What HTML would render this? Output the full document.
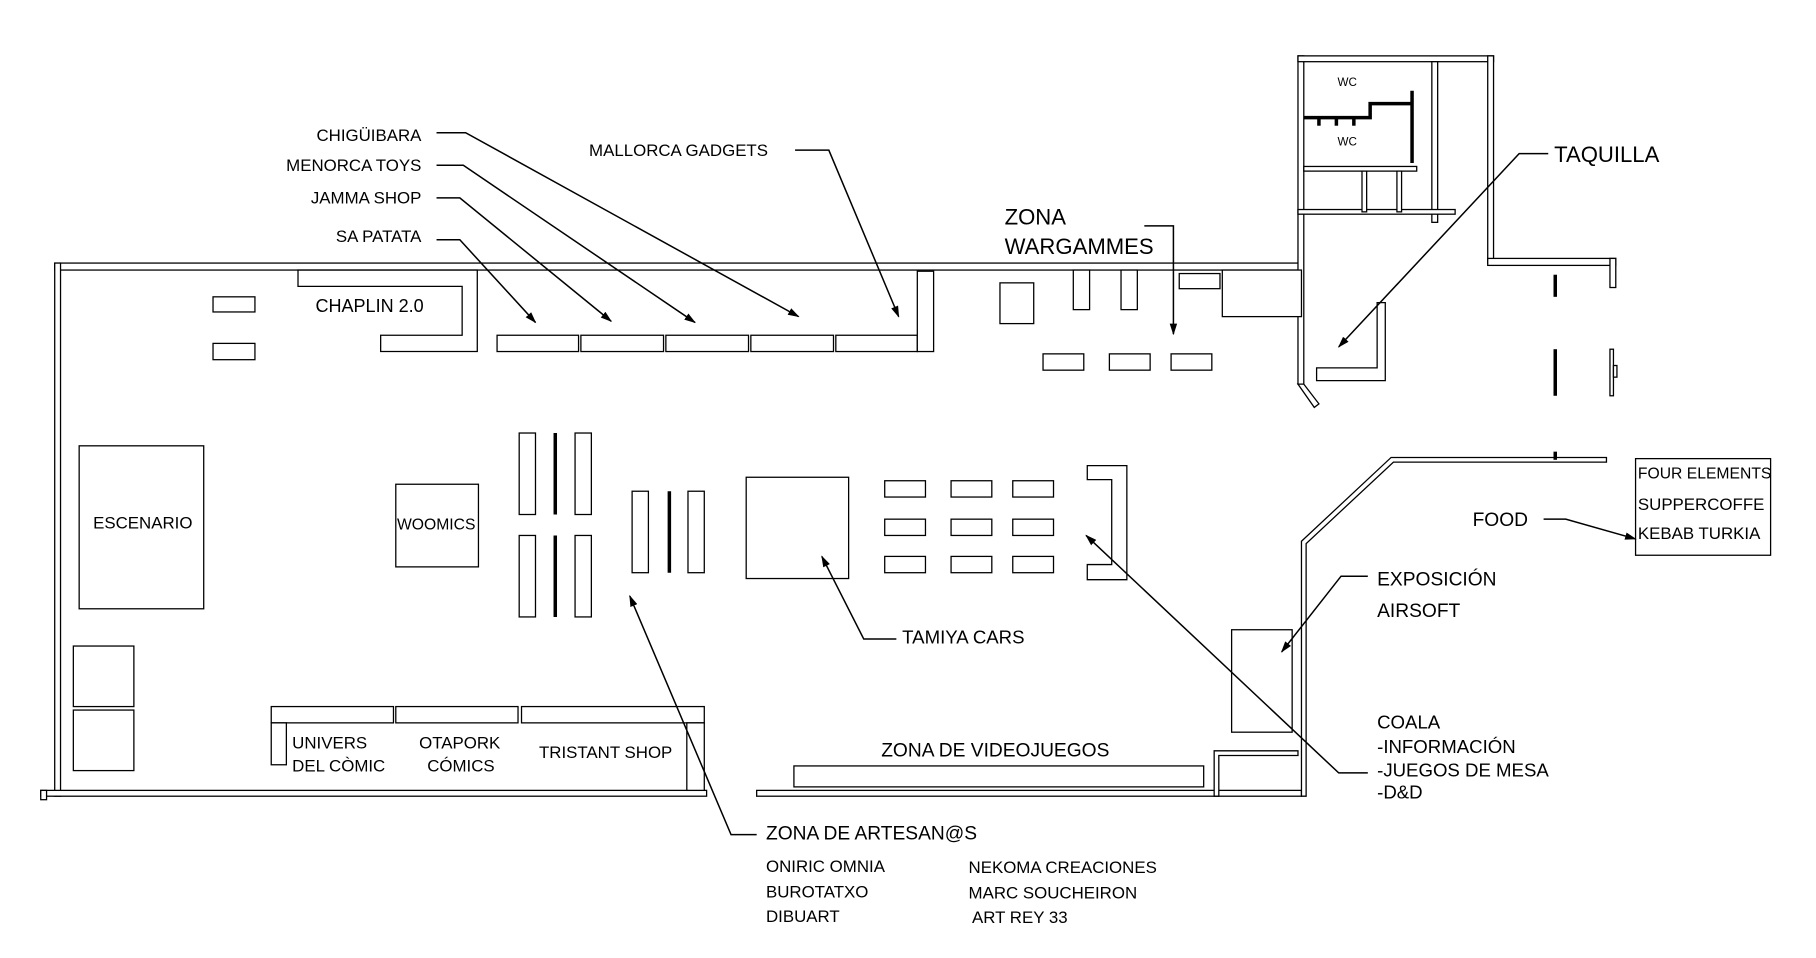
<!DOCTYPE html>
<html><head><meta charset="utf-8"><style>
html,body{margin:0;padding:0;background:#fff;}
svg{display:block;}
text{font-family:"Liberation Sans",sans-serif;fill:#000;}
</style></head><body>
<svg width="1816" height="958" viewBox="0 0 1560 823" preserveAspectRatio="none" xmlns="http://www.w3.org/2000/svg">
<defs><marker id="a" markerWidth="10" markerHeight="8" refX="9" refY="4" orient="auto" markerUnits="userSpaceOnUse"><path d="M0,0.8 L10,4 L0,7.2 Z" fill="#000"/></marker></defs>
<g fill="#fff" stroke="#000" stroke-width="1.1">
<!-- outer walls -->
<rect x="47" y="226" width="1071" height="6"/>
<rect x="47" y="226" width="5" height="458"/>
<rect x="35" y="679" width="572" height="5"/>
<rect x="35" y="679" width="5" height="8"/>
<rect x="650" y="679" width="468" height="5"/>
<rect x="1115" y="48" width="5" height="282"/>
<path d="M1115,330 L1120,330 L1133,347 L1129,350 Z"/>
<rect x="1115" y="48" width="168" height="5"/>
<rect x="1278" y="48" width="5" height="178"/>
<rect x="1278" y="222" width="110" height="6"/>
<rect x="1383" y="222" width="5" height="25"/>
<rect x="1230" y="53" width="5" height="138"/>
<rect x="1120" y="143" width="97" height="4"/>
<rect x="1115" y="180" width="135" height="4"/>
<rect x="1170" y="147" width="4" height="35"/>
<rect x="1200" y="147" width="4" height="35"/>
<path d="M1118,465 L1195,393 L1380,393 L1380,397 L1197,397 L1122,467 L1122,684 L1118,684 Z"/>
<path d="M1043,645 L1115,645 L1115,649 L1047,649 L1047,684 L1043,684 Z"/>
<rect x="1050" y="232" width="68" height="40"/>
<rect x="1013" y="235" width="35" height="13"/>
<!-- shops -->
<rect x="427" y="288" width="70" height="14"/>
<rect x="499" y="288" width="71" height="14"/>
<rect x="572" y="288" width="71" height="14"/>
<rect x="645" y="288" width="71" height="14"/>
<rect x="718" y="288" width="70" height="14"/>
<rect x="788" y="233" width="14" height="69"/>
<path d="M256,232 L410,232 L410,302 L327,302 L327,288 L397,288 L397,246 L256,246 Z"/>
<rect x="183" y="255" width="36" height="13"/>
<rect x="183" y="295" width="36" height="14"/>
<rect x="68" y="383" width="107" height="140"/>
<rect x="340" y="416" width="71" height="71"/>
<rect x="63" y="555" width="52" height="52"/>
<rect x="63" y="610" width="52" height="52"/>
<rect x="446" y="372" width="14" height="70"/>
<rect x="494" y="372" width="14" height="70"/>
<rect x="446" y="460" width="14" height="70"/>
<rect x="494" y="460" width="14" height="70"/>
<rect x="543" y="422" width="14" height="70"/>
<rect x="591" y="422" width="14" height="70"/>
<rect x="641" y="410" width="88" height="87"/>
<rect x="760" y="413" width="35" height="14"/><rect x="817" y="413" width="35" height="14"/><rect x="870" y="413" width="35" height="14"/>
<rect x="760" y="446" width="35" height="14"/><rect x="817" y="446" width="35" height="14"/><rect x="870" y="446" width="35" height="14"/>
<rect x="760" y="478" width="35" height="14"/><rect x="817" y="478" width="35" height="14"/><rect x="870" y="478" width="35" height="14"/>
<path d="M934,400 L968,400 L968,498 L934,498 L934,485 L955,485 L955,412 L934,412 Z"/>
<rect x="859" y="243" width="29" height="35"/>
<rect x="922" y="232" width="14" height="34"/>
<rect x="963" y="232" width="14" height="34"/>
<rect x="896" y="304" width="35" height="14"/>
<rect x="953" y="304" width="35" height="14"/>
<rect x="1006" y="304" width="35" height="14"/>
<rect x="233" y="607" width="105" height="14"/>
<rect x="340" y="607" width="105" height="14"/>
<rect x="448" y="607" width="157" height="14"/>
<rect x="233" y="621" width="13" height="36"/>
<rect x="590" y="621" width="15" height="58"/>
<rect x="682" y="658" width="352" height="18"/>
<rect x="1058" y="541" width="52" height="88"/>
<rect x="1405" y="394" width="116" height="83"/>
<path d="M1183,260 L1190,260 L1190,327 L1131,327 L1131,316 L1183,316 Z"/>
<rect x="1383" y="300" width="3" height="40"/>
<rect x="1386" y="314" width="3" height="10"/>
</g>
<g stroke="#000" stroke-width="3" fill="none">
<line x1="477" y1="372" x2="477" y2="442"/><line x1="477" y1="460" x2="477" y2="530"/>
<line x1="575" y1="422" x2="575" y2="492"/>
<line x1="1336" y1="236" x2="1336" y2="255"/><line x1="1336" y1="300" x2="1336" y2="340"/><line x1="1336" y1="388" x2="1336" y2="395"/>
<line x1="1213" y1="78" x2="1213" y2="140"/>
<path d="M1120,101 L1177,101 L1177,89 L1213,89"/>
<line x1="1133" y1="101" x2="1133" y2="108"/><line x1="1148" y1="101" x2="1148" y2="108"/><line x1="1163" y1="101" x2="1163" y2="108"/>
</g>
<g stroke="#000" stroke-width="1.3" fill="none" marker-end="url(#a)">
<path d="M375,114 L400,114 L686,272"/>
<path d="M375,142 L398,142 L597,277"/>
<path d="M375,170 L395,170 L525,276"/>
<path d="M375,206 L395,206 L460,277"/>
<path d="M683,129 L712,129 L772,272"/>
<path d="M983,194 L1008,194 L1008,287"/>
<path d="M1330,132 L1305,132 L1150,298"/>
<path d="M1326,446 L1345,446 L1405,463"/>
<path d="M1175,495 L1152,495 L1101,560"/>
<path d="M1175,664 L1150,664 L933,460"/>
<path d="M770,549 L742,549 L706,478"/>
<path d="M650,717 L628,717 L541,512"/>
</g>
<g font-size="14.5">
<text x="362" y="121" text-anchor="end">CHIGÜIBARA</text>
<text x="362" y="147" text-anchor="end">MENORCA TOYS</text>
<text x="362" y="175" text-anchor="end">JAMMA SHOP</text>
<text x="362" y="208" text-anchor="end">SA PATATA</text>
<text x="506" y="134">MALLORCA GADGETS</text>
<text x="271" y="268" font-size="15.5">CHAPLIN 2.0</text>
<text x="80" y="454">ESCENARIO</text>
<text x="341" y="455" font-size="13.5">WOOMICS</text>
<text x="775" y="553" font-size="16">TAMIYA CARS</text>
<text x="757" y="650" font-size="16.5">ZONA DE VIDEOJUEGOS</text>
<text x="251" y="643">UNIVERS</text>
<text x="251" y="663">DEL CÒMIC</text>
<text x="360" y="643">OTAPORK</text>
<text x="367" y="663">CÓMICS</text>
<text x="463" y="651">TRISTANT SHOP</text>
<text x="658" y="721" font-size="16.5">ZONA DE ARTESAN@S</text>
<text x="658" y="749">ONIRIC OMNIA</text>
<text x="658" y="771">BUROTATXO</text>
<text x="658" y="792">DIBUART</text>
<text x="832" y="750">NEKOMA CREACIONES</text>
<text x="832" y="772">MARC SOUCHEIRON</text>
<text x="835" y="793">ART REY 33</text>
<text x="863" y="193" font-size="19">ZONA</text>
<text x="863" y="218" font-size="19">WARGAMMES</text>
<text x="1335" y="139" font-size="19">TAQUILLA</text>
<text x="1265" y="452" font-size="16.5">FOOD</text>
<text x="1407" y="411" font-size="13.5">FOUR ELEMENTS</text>
<text x="1407" y="438">SUPPERCOFFE</text>
<text x="1407" y="463">KEBAB TURKIA</text>
<text x="1183" y="503" font-size="16.5">EXPOSICIÓN</text>
<text x="1183" y="530" font-size="16.5">AIRSOFT</text>
<text x="1183" y="626" font-size="16">COALA</text>
<text x="1183" y="647" font-size="16">-INFORMACIÓN</text>
<text x="1183" y="667" font-size="16">-JUEGOS DE MESA</text>
<text x="1183" y="686" font-size="16">-D&amp;D</text>
<text x="1149" y="74" font-size="10">WC</text>
<text x="1149" y="125" font-size="10">WC</text>
</g>
</svg>
</body></html>
